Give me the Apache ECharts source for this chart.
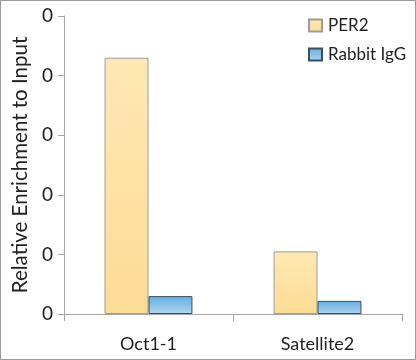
<!DOCTYPE html>
<html>
<head>
<meta charset="utf-8">
<script src="https://cdn.jsdelivr.net/npm/echarts@6/dist/echarts.min.js"></script>
<style>
html,body{margin:0;padding:0;background:#fff;}
#c{width:416px;height:360px;box-sizing:border-box;border:1px solid #9a9a9a;}
</style>
</head>
<body>
<div id="c"></div>
<script>
var categories = ["Oct1-1", "Satellite2"];
var per2Values = [4.3, 1.05];
var iggValues = [0.3, 0.22];
var yTickLabels = ["0", "0", "0", "0", "0", "0"];
var seriesNames = ["PER2", "Rabbit IgG"];
var yAxisTitle = "Relative Enrichment to Input";

var chart = echarts.init(document.getElementById('c'), null, {renderer: 'canvas'});
var font = "Lato, 'Open Sans', sans-serif";
var axisGray = '#a6a6a6';
chart.setOption({
  animation: false,
  backgroundColor: '#ffffff',
  textStyle: {fontFamily: font},
  legend: {
    orient: 'vertical',
    left: 307, top: 16,
    padding: 0,
    itemWidth: 13, itemHeight: 12,
    itemGap: 12,
    icon: 'rect',
    textStyle: {fontSize: 17, color: '#222', fontFamily: font, padding: [0,0,0,1]},
    data: seriesNames
  },
  grid: {left: 63, right: 13, top: 15, bottom: 45, containLabel: false},
  xAxis: {
    type: 'category',
    data: categories,
    axisLine: {show: true, lineStyle: {color: axisGray, width: 1}},
    axisTick: {show: true, length: 7, lineStyle: {color: axisGray}},
    axisLabel: {fontSize: 18, color: '#222', margin: 21, fontFamily: font}
  },
  yAxis: {
    type: 'value',
    min: 0, max: 5, interval: 1,
    name: yAxisTitle,
    nameLocation: 'middle',
    nameGap: 31,
    nameRotate: 90,
    nameTextStyle: {fontSize: 20.5, color: '#222', fontFamily: font},
    axisLine: {show: true, lineStyle: {color: axisGray, width: 1}},
    axisTick: {show: true, length: 6, lineStyle: {color: axisGray}},
    splitLine: {show: false},
    axisLabel: {
      fontSize: 19, color: '#222', margin: 11, fontFamily: font,
      formatter: function (v) { return yTickLabels[Math.round(v)]; }
    }
  },
  series: [
    {
      name: seriesNames[0],
      type: 'bar',
      data: per2Values,
      barGap: '0%',
      barCategoryGap: '48%',
      itemStyle: {
        color: new echarts.graphic.LinearGradient(0, 0, 0, 1, [
          {offset: 0, color: '#ffe8b4'},
          {offset: 1, color: '#fddc94'}
        ]),
        borderColor: '#9c9c9c',
        borderWidth: 1
      }
    },
    {
      name: seriesNames[1],
      type: 'bar',
      data: iggValues,
      itemStyle: {
        color: new echarts.graphic.LinearGradient(0, 0, 0, 1, [
          {offset: 0, color: '#62aee2'},
          {offset: 1, color: '#b0d6f0'}
        ]),
        borderColor: '#3c4e5e',
        borderWidth: 1
      }
    }
  ]
});
</script>
</body>
</html>
